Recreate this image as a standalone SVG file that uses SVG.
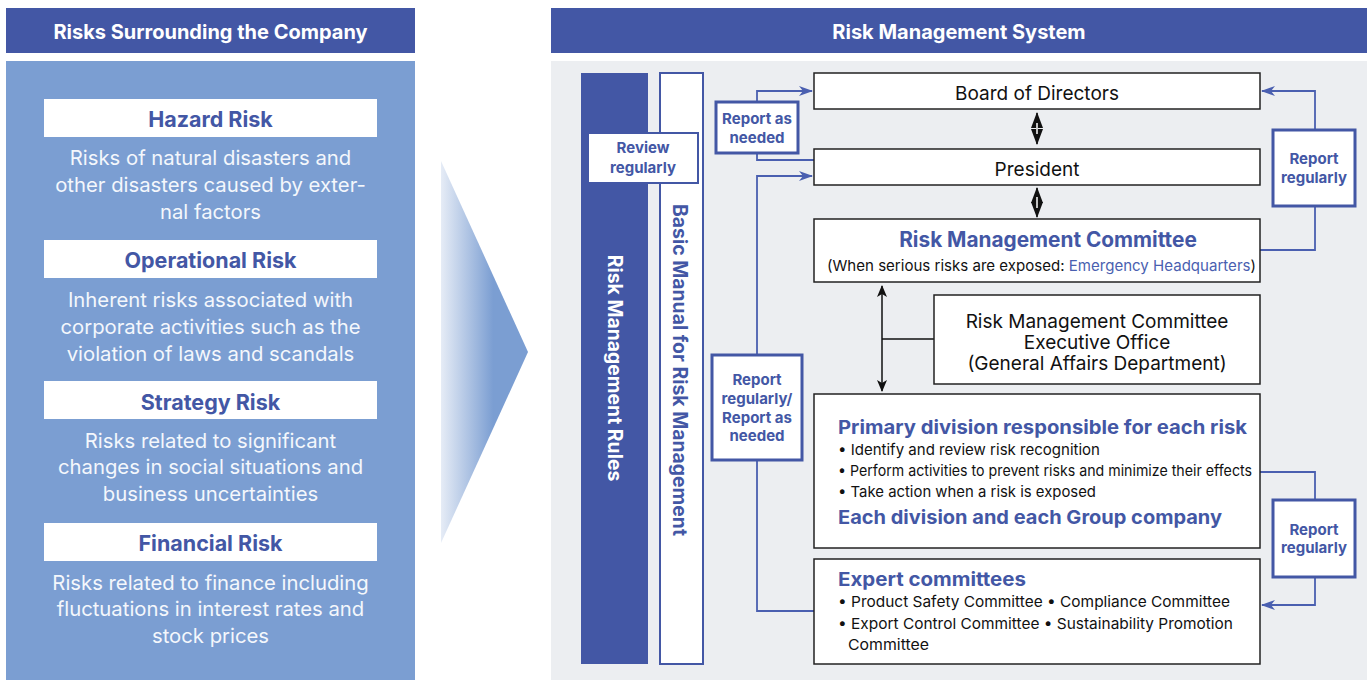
<svg xmlns="http://www.w3.org/2000/svg" width="1370" height="680" viewBox="0 0 1370 680">
<style>
.hdr{fill:#4357a5}
.hdrt{font-family:Inter,"Liberation Sans",sans-serif;font-weight:700;font-size:20px;fill:#fff;text-anchor:middle}
.rbox{fill:#fff}
.rtitle{font-family:Inter,"Liberation Sans",sans-serif;font-weight:700;font-size:21.5px;fill:#4357a5;text-anchor:middle}
.rdesc{font-family:Inter,"Liberation Sans",sans-serif;font-weight:400;font-size:20.3px;fill:#f4f7fc;text-anchor:middle}
.node{fill:#fff;stroke:#222;stroke-width:1.5}
.lbl{fill:#fff;stroke:#4357a5;stroke-width:3}
.lblt{font-family:Inter,"Liberation Sans",sans-serif;font-weight:700;font-size:15px;fill:#4357a5;text-anchor:middle}
.nt{font-family:Inter,"Liberation Sans",sans-serif;font-weight:400;font-size:19px;fill:#111;text-anchor:middle}
.bt{font-family:Inter,"Liberation Sans",sans-serif;font-weight:700;font-size:19px;fill:#4357a5}
.sm{font-family:Inter,"Liberation Sans",sans-serif;font-weight:400;font-size:15px;fill:#111}
.bl{fill:none;stroke:#4a5fb0;stroke-width:1.8}
.kl{fill:none;stroke:#111;stroke-width:1.5}
</style>
<defs>
<linearGradient id="ag" x1="441" y1="0" x2="528" y2="0" gradientUnits="userSpaceOnUse">
<stop offset="0" stop-color="#e6ecf6"/>
<stop offset="0.6" stop-color="#7b9ed2"/>
<stop offset="1" stop-color="#7b9ed2"/>
</linearGradient>
<marker id="ba" viewBox="0 0 14 10" refX="13" refY="5" markerWidth="14" markerHeight="10" markerUnits="userSpaceOnUse" orient="auto">
<path d="M0,0 L14,5 L0,10 L4,5 Z" fill="#4a5fb0"/>
</marker>
<marker id="ka" viewBox="0 0 12 10" refX="11" refY="5" markerWidth="12" markerHeight="10" markerUnits="userSpaceOnUse" orient="auto-start-reverse">
<path d="M0,0 L12,5 L0,10 L3,5 Z" fill="#111"/>
</marker>
<marker id="kd" viewBox="0 0 16 12" refX="15" refY="6" markerWidth="16" markerHeight="12" markerUnits="userSpaceOnUse" orient="auto-start-reverse">
<path d="M0,0 L16,6 L0,12 Z" fill="#111"/>
</marker>
</defs>
<rect width="1370" height="680" fill="#fff"/>

<!-- Left panel -->
<g id="left-header">
<rect class="hdr" x="6" y="8" width="409" height="45"/>
<text class="hdrt" x="210.5" y="39">Risks Surrounding the Company</text>
</g>
<rect x="6" y="61" width="409" height="619" fill="#7b9ed2"/>
<g id="hazard">
<rect class="rbox" x="44" y="99" width="333" height="38"/>
<text class="rtitle" x="210.5" y="127">Hazard Risk</text>
<text class="rdesc" x="210.5" y="165">Risks of natural disasters and</text>
<text class="rdesc" x="210.5" y="192">other disasters caused by exter-</text>
<text class="rdesc" x="210.5" y="219">nal factors</text>
</g>
<g id="operational">
<rect class="rbox" x="44" y="240" width="333" height="38"/>
<text class="rtitle" x="210.5" y="268">Operational Risk</text>
<text class="rdesc" x="210.5" y="307">Inherent risks associated with</text>
<text class="rdesc" x="210.5" y="334">corporate activities such as the</text>
<text class="rdesc" x="210.5" y="361">violation of laws and scandals</text>
</g>
<g id="strategy">
<rect class="rbox" x="44" y="381" width="333" height="38"/>
<text class="rtitle" x="210.5" y="410">Strategy Risk</text>
<text class="rdesc" x="210.5" y="448">Risks related to significant</text>
<text class="rdesc" x="210.5" y="474">changes in social situations and</text>
<text class="rdesc" x="210.5" y="501">business uncertainties</text>
</g>
<g id="financial">
<rect class="rbox" x="44" y="523" width="333" height="38"/>
<text class="rtitle" x="210.5" y="551">Financial Risk</text>
<text class="rdesc" x="210.5" y="590">Risks related to finance including</text>
<text class="rdesc" x="210.5" y="616">fluctuations in interest rates and</text>
<text class="rdesc" x="210.5" y="643">stock prices</text>
</g>

<!-- big arrow -->
<polygon id="big-arrow" points="441,161 528,352 441,543" fill="url(#ag)"/>

<!-- Right panel -->
<g id="right-header">
<rect class="hdr" x="551" y="8" width="816" height="45"/>
<text class="hdrt" x="959" y="39">Risk Management System</text>
</g>
<rect x="551" y="61" width="816" height="619" fill="#eceef1"/>

<g id="rules">
<rect x="581" y="73" width="67" height="591" fill="#4357a5"/>
<text transform="translate(608,368) rotate(90)" font-family="Inter,'Liberation Sans',sans-serif" font-weight="700" font-size="19.4" fill="#fff" text-anchor="middle">Risk Management Rules</text>
</g>
<g id="manual">
<rect x="660" y="73" width="43" height="591" fill="#fff" stroke="#4357a5" stroke-width="2"/>
<text transform="translate(673,370) rotate(90)" font-family="Inter,'Liberation Sans',sans-serif" font-weight="700" font-size="19.4" fill="#4357a5" text-anchor="middle">Basic Manual for Risk Management</text>
</g>
<g id="review">
<rect x="588" y="133" width="110" height="50" fill="#fff" stroke="#4357a5" stroke-width="2"/>
<text class="lblt" x="643" y="153">Review</text>
<text class="lblt" x="643" y="173">regularly</text>
</g>

<!-- connectors -->
<g id="connectors">
<polyline class="bl" points="814,160 757,160 757,91 812,91" marker-end="url(#ba)"/>
<polyline class="bl" points="814,611 757,611 757,176 812,176" marker-end="url(#ba)"/>
<polyline class="bl" points="1260,250 1315,250 1315,91 1262,91" marker-end="url(#ba)"/>
<polyline class="bl" points="1260,472 1315,472 1315,605 1262,605" marker-end="url(#ba)"/>
<line class="kl" x1="1037" y1="113" x2="1037" y2="144" marker-start="url(#kd)" marker-end="url(#kd)"/>
<line x1="1037" y1="123" x2="1037" y2="134" stroke="#fff" stroke-width="1.5"/>
<line class="kl" x1="1037" y1="188" x2="1037" y2="217" marker-start="url(#kd)" marker-end="url(#kd)"/>
<line x1="1037" y1="197" x2="1037" y2="208" stroke="#fff" stroke-width="1.5"/>
<line class="kl" x1="882" y1="286" x2="882" y2="391" marker-start="url(#ka)" marker-end="url(#ka)"/>
<line class="kl" x1="882" y1="339" x2="934" y2="339"/>
</g>

<g id="report-as-needed">
<rect class="lbl" x="716" y="102" width="82" height="51" stroke-width="2.5"/>
<text class="lblt" x="757" y="124">Report as</text>
<text class="lblt" x="757" y="143">needed</text>
</g>
<g id="report-regularly-needed">
<rect class="lbl" x="712" y="355" width="90" height="105" stroke-width="2.5"/>
<text class="lblt" x="757" y="385">Report</text>
<text class="lblt" x="757" y="404">regularly/</text>
<text class="lblt" x="757" y="423">Report as</text>
<text class="lblt" x="757" y="441">needed</text>
</g>
<g id="report-regularly-top">
<rect class="lbl" x="1273" y="130" width="82" height="76" stroke-width="2.5"/>
<text class="lblt" x="1314" y="164">Report</text>
<text class="lblt" x="1314" y="183">regularly</text>
</g>
<g id="report-regularly-bottom">
<rect class="lbl" x="1273" y="500" width="82" height="77" stroke-width="2.5"/>
<text class="lblt" x="1314" y="535">Report</text>
<text class="lblt" x="1314" y="553">regularly</text>
</g>

<g id="board">
<rect class="node" x="814" y="73" width="446" height="36"/>
<text class="nt" x="1037" y="100">Board of Directors</text>
</g>
<g id="president">
<rect class="node" x="814" y="149" width="446" height="36"/>
<text class="nt" x="1037" y="176">President</text>
</g>
<g id="rmc">
<rect class="node" x="814" y="219" width="446" height="63"/>
<text class="bt" x="1048" y="247" style="font-size:20.8px;text-anchor:middle">Risk Management Committee</text>
<text class="sm" x="827" y="271" textLength="429" lengthAdjust="spacingAndGlyphs">(When serious risks are exposed: <tspan fill="#4a5fb0">Emergency Headquarters</tspan>)</text>
</g>
<g id="exec-office">
<rect class="node" x="934" y="295" width="326" height="89"/>
<text class="nt" x="1097" y="328">Risk Management Committee</text>
<text class="nt" x="1097" y="349">Executive Office</text>
<text class="nt" x="1097" y="370">(General Affairs Department)</text>
</g>
<g id="primary">
<rect class="node" x="814" y="394" width="446" height="154"/>
<text class="bt" x="838" y="434" textLength="409" lengthAdjust="spacingAndGlyphs">Primary division responsible for each risk</text>
<text class="sm" x="838" y="455" textLength="262" lengthAdjust="spacingAndGlyphs">• Identify and review risk recognition</text>
<text class="sm" x="838" y="476" textLength="414" lengthAdjust="spacingAndGlyphs">• Perform activities to prevent risks and minimize their effects</text>
<text class="sm" x="838" y="497" textLength="258" lengthAdjust="spacingAndGlyphs">• Take action when a risk is exposed</text>
<text class="bt" x="838" y="524" textLength="384" lengthAdjust="spacingAndGlyphs">Each division and each Group company</text>
</g>
<g id="expert">
<rect class="node" x="814" y="559" width="446" height="105"/>
<text class="bt" x="838" y="586" textLength="188" lengthAdjust="spacingAndGlyphs">Expert committees</text>
<text class="sm" x="838" y="607" textLength="392" lengthAdjust="spacingAndGlyphs">• Product Safety Committee  • Compliance Committee</text>
<text class="sm" x="838" y="629" textLength="395" lengthAdjust="spacingAndGlyphs">• Export Control Committee  • Sustainability Promotion</text>
<text class="sm" x="848" y="650" textLength="81" lengthAdjust="spacingAndGlyphs">Committee</text>
</g>
</svg>
